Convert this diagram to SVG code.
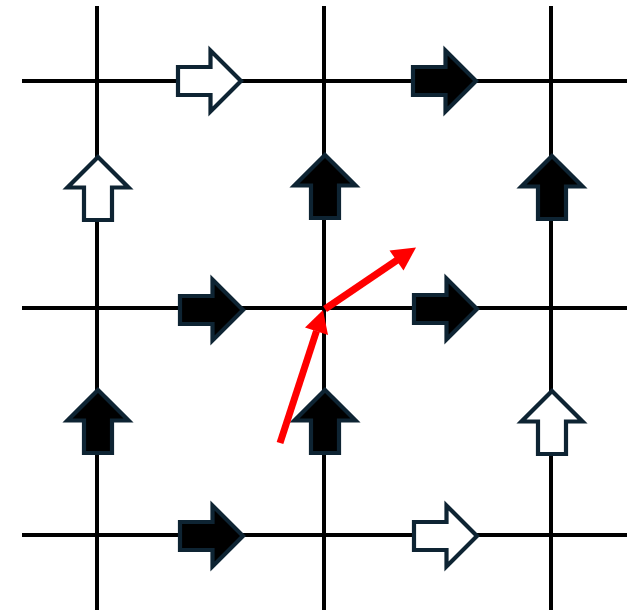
<svg xmlns="http://www.w3.org/2000/svg" width="641" height="613" viewBox="0 0 641 613">
  <defs>
    <style>
      .grid { stroke: #000; stroke-width: 4; fill: none; }
      .blk { stroke: #0e2433; stroke-width: 4.2; stroke-linejoin: miter; }
      .open { fill: #fff; }
      .full { fill: #000; }
      .red { stroke: #ff0000; stroke-width: 7; fill: none; }
      .redhead { fill: #ff0000; }
    </style>
    <path id="up" d="M0,0 L30.5,30.5 L14,30.5 L14,63 L-14,63 L-14,30.5 L-30.5,30.5 Z"/>
    <path id="right" d="M0,0 L-30.5,-30.5 L-30.5,-14 L-63,-14 L-63,14 L-30.5,14 L-30.5,30.5 Z"/>
  </defs>
  <rect width="641" height="613" fill="#fff"/>
  <g id="grid" class="grid">
    <line x1="97" y1="6" x2="97" y2="610"/>
    <line x1="324" y1="6" x2="324" y2="610"/>
    <line x1="551" y1="6" x2="551" y2="610"/>
    <line x1="22" y1="81" x2="627" y2="81"/>
    <line x1="22" y1="308" x2="627" y2="308"/>
    <line x1="22" y1="535" x2="627" y2="535"/>
  </g>
  <g id="h-arrows">
    <use id="h1" href="#right" class="blk open" x="241" y="81"/>
    <use id="h2" href="#right" class="blk full" x="476" y="81"/>
    <use id="h3" href="#right" class="blk full" x="243" y="310"/>
    <use id="h4" href="#right" class="blk full" x="477" y="309"/>
    <use id="h5" href="#right" class="blk full" x="243" y="536"/>
    <use id="h6" href="#right" class="blk open" x="477" y="536"/>
  </g>
  <g id="v-arrows">
    <use id="v1" href="#up" class="blk open" x="98" y="157"/>
    <use id="v2" href="#up" class="blk full" x="325" y="155"/>
    <use id="v3" href="#up" class="blk full" x="552" y="156"/>
    <use id="v4" href="#up" class="blk full" x="98" y="390"/>
    <use id="v5" href="#up" class="blk full" x="325" y="390"/>
    <use id="v6" href="#up" class="blk open" x="552" y="391"/>
  </g>
  <g id="connectors">
    <line class="red" x1="280" y1="443" x2="316.5" y2="331"/>
    <polygon class="redhead" points="323,310 328,335 305,327.5"/>
    <line class="red" x1="325" y1="309" x2="398" y2="259.5"/>
    <polygon class="redhead" points="416,247.5 403.5,270.5 389.5,250.5"/>
  </g>
</svg>
